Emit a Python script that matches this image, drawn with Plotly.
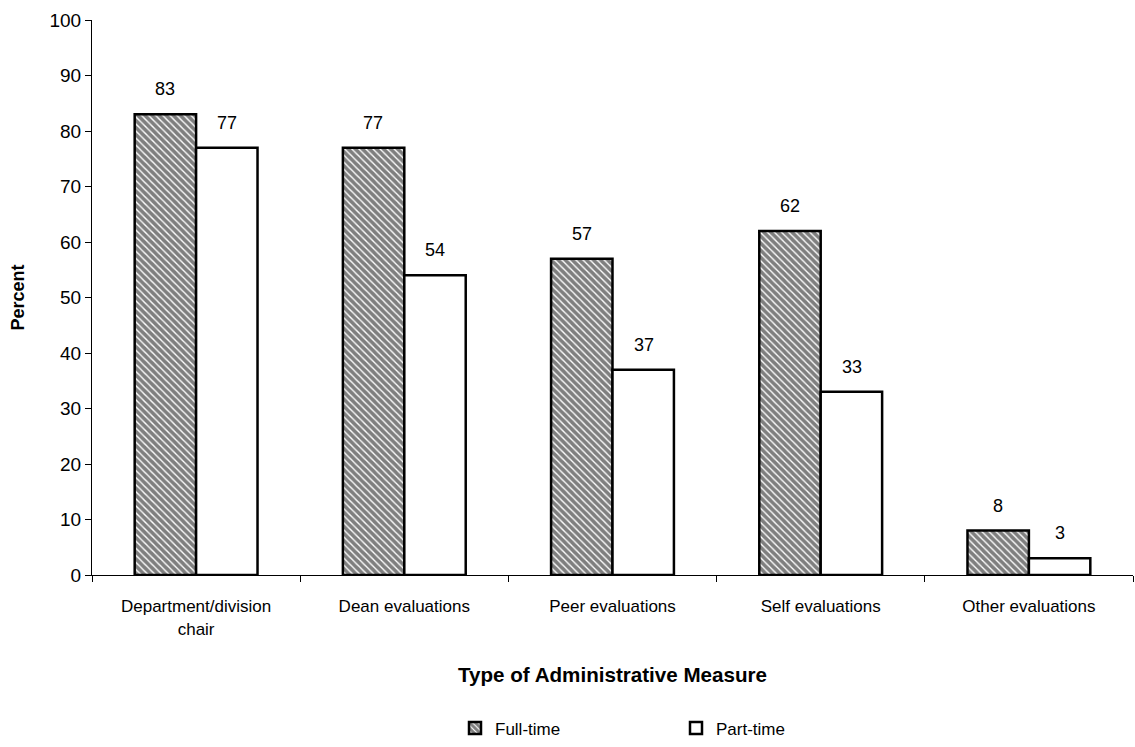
import plotly.graph_objects as go

categories = ["Department/division<br>chair", "Dean evaluations", "Peer evaluations",
              "Self evaluations", "Other evaluations"]
full_time = [83, 77, 57, 62, 8]
part_time = [77, 54, 37, 33, 3]

font_family = "Liberation Sans, Arial, sans-serif"

fig = go.Figure()
fig.add_trace(go.Bar(
    name="Full-time", x=categories, y=full_time,
    marker=dict(color="white", line=dict(color="black", width=2.5),
                pattern=dict(shape="\\", fgcolor="black", bgcolor="white",
                             size=5, solidity=0.72)),
))
fig.add_trace(go.Bar(
    name="Part-time", x=categories, y=part_time,
    marker=dict(color="white", line=dict(color="black", width=2.5)),
))

# value labels above each bar, offset half a bar width to either side
for vals, shift in [(full_time, -31), (part_time, 31)]:
    for c, v in zip(categories, vals):
        fig.add_annotation(x=c, y=v, text=str(v), showarrow=False,
                           xshift=shift, yshift=13, yanchor="bottom",
                           font=dict(size=18, color="black"))

fig.update_layout(
    barmode="group", bargap=0.41, bargroupgap=0,
    width=1135, height=747,
    plot_bgcolor="white", paper_bgcolor="white",
    font=dict(family=font_family, size=17, color="black"),
    margin=dict(l=92, r=2, t=20, b=171),
    legend=dict(orientation="h", x=0.561, xanchor="center", y=-0.242, yanchor="top",
                entrywidth=176, entrywidthmode="pixels",
                font=dict(size=17), traceorder="normal"),
)
fig.update_yaxes(
    range=[0, 100], dtick=10, showgrid=False, zeroline=False, automargin=False,
    showline=True, linecolor="black", linewidth=1,
    ticks="outside", ticklen=6, tickcolor="black", tickfont=dict(size=19),
    title=dict(text="<b>Percent</b>", font=dict(size=18), standoff=20),
)
fig.update_xaxes(
    showgrid=False, showline=True, linecolor="black", linewidth=1, automargin=False,
    ticks="outside", ticklen=6, tickcolor="black", tickson="boundaries",
    tickfont=dict(size=17), ticklabelstandoff=16,
    title=dict(text="<b>Type of Administrative Measure</b>", font=dict(size=20.6), standoff=30),
)

# drop the default body margin so the figure sits at the page origin
fig.write_html("out.html", config={"displayModeBar": False},
               post_script="document.body.style.margin='0';")
